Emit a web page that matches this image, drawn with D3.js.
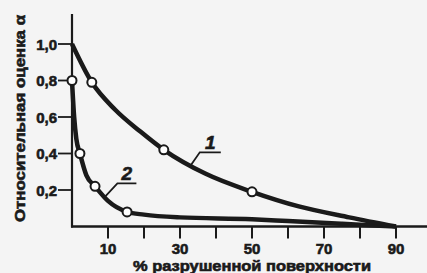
<!DOCTYPE html>
<html>
<head>
<meta charset="utf-8">
<script src="https://cdn.jsdelivr.net/npm/d3@7"></script>
<style>
  body { margin: 0; background: #f4f4f4; }
  svg { display: block; }
  text { font-family: "Liberation Sans", Arial, sans-serif; font-weight: bold; fill: #1a1a1a; stroke: #1a1a1a; stroke-width: 0.6px; }
</style>
</head>
<body>
<div id="chart"></div>
<script>
var width = 427,
    height = 273;

// curve 1 (x = % of destroyed surface, y = relative score)
var curve1X = [0, 5.5, 12, 19, 25.5, 37, 50, 63, 77, 90];
var curve1Y = [1.0, 0.79, 0.64, 0.52, 0.42, 0.29, 0.19, 0.11, 0.05, 0.0];
var curve1Marks = [1, 4, 6];

// curve 2
var curve2X = [0, 0.6, 1.2, 2.2, 4, 6.4, 10, 15.3, 20, 30, 50, 60, 75, 90];
var curve2Y = [0.8, 0.6, 0.48, 0.4, 0.28, 0.22, 0.14, 0.08, 0.065, 0.05, 0.04, 0.03, 0.015, 0.0];
var curve2Marks = [0, 3, 5, 7];

var xTicks = [10, 20, 30, 40, 50, 60, 70, 80, 90];
var xTickLabels = ["10", "", "30", "", "50", "", "70", "", "90"];
var yTicks = [0.2, 0.4, 0.6, 0.8, 1.0];
var yTickLabels = ["0,2", "0,4", "0,6", "0,8", "1,0"];

var xTitle = "% разрушенной поверхности";
var yTitle = "Относительная оценка α";

var ink = "#1a1a1a";

var svg = d3.select("#chart").append("svg")
    .attr("width", width)
    .attr("height", height);

var x = d3.scaleLinear().domain([0, 90]).range([72, 396]);
var y = d3.scaleLinear().domain([0, 1]).range([226.5, 44]);

// axes lines
svg.append("line")
    .attr("x1", x(0)).attr("x2", x(0))
    .attr("y1", 14).attr("y2", y(0) + 1)
    .attr("stroke", ink).attr("stroke-width", 2.2);
svg.append("line")
    .attr("x1", x(0) - 1).attr("x2", width)
    .attr("y1", y(0)).attr("y2", y(0))
    .attr("stroke", ink).attr("stroke-width", 2.5);

// y ticks
var yt = svg.append("g");
yTicks.forEach(function(v, i) {
    yt.append("line")
        .attr("x1", x(0) - 14).attr("x2", x(0))
        .attr("y1", y(v)).attr("y2", y(v))
        .attr("stroke", ink).attr("stroke-width", 1.8);
    yt.append("text")
        .attr("x", x(0) - 15)
        .attr("y", y(v) + 5.5)
        .attr("text-anchor", "end")
        .attr("font-size", 15)
        .text(yTickLabels[i]);
});

// x ticks
var xt = svg.append("g");
xTicks.forEach(function(v, i) {
    xt.append("line")
        .attr("x1", x(v)).attr("x2", x(v))
        .attr("y1", y(0)).attr("y2", y(0) + 12)
        .attr("stroke", ink).attr("stroke-width", 2);
    if (xTickLabels[i]) {
        xt.append("text")
            .attr("x", x(v))
            .attr("y", y(0) + 27)
            .attr("text-anchor", "middle")
            .attr("font-size", 15)
            .text(xTickLabels[i]);
    }
});

// titles
svg.append("text")
    .attr("x", 133)
    .attr("y", 271)
    .attr("font-size", 14)
    .attr("textLength", 238)
    .attr("lengthAdjust", "spacingAndGlyphs")
    .text(xTitle);

svg.append("text")
    .attr("transform", "translate(25,222) rotate(-90)")
    .attr("font-size", 14)
    .attr("textLength", 207)
    .attr("lengthAdjust", "spacingAndGlyphs")
    .text(yTitle);

var line = d3.line()
    .x(function(d) { return x(d[0]); })
    .y(function(d) { return y(d[1]); })
    .curve(d3.curveMonotoneX);

function drawCurve(xs, ys, marks) {
    var pts = xs.map(function(v, i) { return [v, ys[i]]; });
    svg.append("path")
        .datum(pts)
        .attr("d", line)
        .attr("fill", "none")
        .attr("stroke", ink)
        .attr("stroke-width", 4.5)
        .attr("stroke-linejoin", "round");
    svg.selectAll(null)
        .data(marks.map(function(i) { return pts[i]; }))
        .enter().append("circle")
        .attr("cx", function(d) { return x(d[0]); })
        .attr("cy", function(d) { return y(d[1]); })
        .attr("r", 4.5)
        .attr("fill", "#fff")
        .attr("stroke", ink)
        .attr("stroke-width", 2);
}

drawCurve(curve2X, curve2Y, curve2Marks);
drawCurve(curve1X, curve1Y, curve1Marks);

// curve labels with leader lines: [label, x on curve, y on curve, dx, dy, underline length]
var labels = [["1", 33, 0.335, 9, -13, 21], ["2", 9, 0.16, 13, -14, 19]];
labels.forEach(function(l) {
    var px = x(l[1]), py = y(l[2]);
    var lx = px + l[3], ly = py + l[4];
    svg.append("path")
        .attr("d", "M" + px + "," + py + "L" + lx + "," + ly + "h" + l[5])
        .attr("fill", "none")
        .attr("stroke", ink)
        .attr("stroke-width", 1.8);
    svg.append("text")
        .attr("x", lx + l[5] / 2)
        .attr("y", ly - 3)
        .attr("text-anchor", "middle")
        .attr("font-size", 19)
        .attr("font-style", "italic")
        .text(l[0]);
});
</script>
</body>
</html>
